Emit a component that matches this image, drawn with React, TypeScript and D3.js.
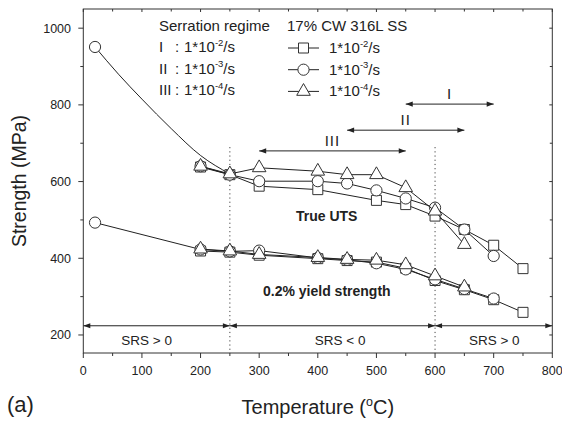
import React from 'react';
import * as d3 from 'd3';

// ---------- data ----------
const utsSquareT = [200, 250, 300, 400, 500, 550, 600, 650, 700, 750];
const utsSquareV = [638, 618, 588, 579, 551, 540, 510, 475, 434, 373];
const utsCircleT = [20, 200, 250, 300, 400, 450, 500, 550, 600, 650, 700];
const utsCircleV = [951, 640, 618, 601, 601, 595, 577, 556, 532, 475, 406];
const utsTriT = [200, 250, 300, 400, 450, 500, 550, 600, 650];
const utsTriV = [640, 620, 636, 627, 618, 618, 584, 523, 436];
// fitted curve through the room-temperature UTS point
const utsFitT = [20, 60, 100, 150, 200, 250];
const utsFitV = [951, 880, 815, 738, 668, 620];

const ysSquareT = [200, 250, 300, 400, 450, 500, 550, 600, 650, 700, 750];
const ysSquareV = [419, 416, 408, 399, 394, 390, 374, 342, 318, 292, 259];
const ysCircleT = [20, 200, 250, 300, 400, 450, 500, 550, 600, 650, 700];
const ysCircleV = [493, 423, 418, 420, 401, 396, 387, 371, 345, 320, 295];
const ysTriT = [200, 250, 300, 400, 450, 500, 550, 600, 650];
const ysTriV = [424, 419, 410, 402, 397, 395, 383, 354, 325];

const regimeLabels = ['I', 'II', 'III'];
const regimeStart = [550, 450, 300];
const regimeEnd = [700, 650, 550];
const regimeLevel = [802, 734, 680];
const regimeLabelT = [625, 550, 425];

const srsLabels = ['SRS > 0', 'SRS < 0', 'SRS > 0'];
const srsStart = [0, 250, 600];
const srsEnd = [250, 600, 800];
const srsLabelT = [108, 438, 701];
const srsLevel = 224;

const boundaryT = [250, 600];
const boundaryTop = 690;

const legendNumerals = ['I', 'II', 'III'];
const legendExponents = ['-2', '-3', '-4'];
const legendShapes = ['square', 'circle', 'triangle'];

const xTicks = [0, 100, 200, 300, 400, 500, 600, 700, 800];
const xMinor = [50, 150, 250, 350, 450, 550, 650, 750];
const yTicks = [200, 400, 600, 800, 1000];
const yMinor = [300, 500, 700, 900];

// ---------- layout ----------
const W = 562, H = 422;
const L = 83.3, R = 552.3, T = 9, B = 353;
const FONT = 'Liberation Sans, Arial, sans-serif';
const INK = '#222';

const x = d3.scaleLinear().domain([0, 800]).range([L, R]);
const y = d3.scaleLinear().domain([153, 1050]).range([B, T]);

const symGen = (shape: string) => {
  const type = shape === 'square' ? d3.symbolSquare : shape === 'circle' ? d3.symbolCircle : d3.symbolTriangle;
  const size = shape === 'square' ? 100 : shape === 'circle' ? Math.PI * 5.6 * 5.6 : 80;
  return d3.symbol().type(type).size(size)() as string;
};

const lineGen = d3.line<[number, number]>().x(d => x(d[0])).y(d => y(d[1]));
const curveGen = d3.line<[number, number]>().x(d => x(d[0])).y(d => y(d[1])).curve(d3.curveMonotoneX);

const zip = (a: number[], b: number[]) => a.map((v, i) => [v, b[i]] as [number, number]);

function Series({ t, v, shape, skipFirstLine }: { t: number[]; v: number[]; shape: string; skipFirstLine?: boolean }) {
  const pts = zip(t, v);
  const linePts = skipFirstLine ? pts.slice(1) : pts;
  const d = symGen(shape);
  return (
    <g>
      <path d={lineGen(linePts) as string} fill="none" stroke={INK} strokeWidth={1} />
      {pts.map((p, i) => (
        <path key={i} d={d} transform={`translate(${x(p[0])},${y(p[1])})`} fill="#fff" stroke="#333" strokeWidth={1} />
      ))}
    </g>
  );
}

function Arrow({ x1, x2, yy }: { x1: number; x2: number; yy: number }) {
  const hl = 7, hw = 2.6;
  return (
    <g>
      <line x1={x1} x2={x2} y1={yy} y2={yy} stroke={INK} strokeWidth={1} />
      <path d={`M${x1},${yy}L${x1 + hl},${yy - hw}L${x1 + hl},${yy + hw}Z`} fill={INK} />
      <path d={`M${x2},${yy}L${x2 - hl},${yy - hw}L${x2 - hl},${yy + hw}Z`} fill={INK} />
    </g>
  );
}

export default function App() {
  return (
    <svg width={W} height={H} style={{ position: 'absolute', left: 0, top: 0, background: '#fff' }} fontFamily={FONT}>
      <rect x={0} y={0} width={W} height={H} fill="#fff" />

      {/* boundaries */}
      {boundaryT.map((b, i) => (
        <line key={i} x1={x(b)} x2={x(b)} y1={y(boundaryTop)} y2={B} stroke="#444" strokeWidth={1} strokeDasharray="1.2,3" />
      ))}

      {/* fitted UTS curve */}
      <path d={curveGen(zip(utsFitT, utsFitV)) as string} fill="none" stroke={INK} strokeWidth={1} />

      <Series t={utsSquareT} v={utsSquareV} shape="square" />
      <Series t={utsCircleT} v={utsCircleV} shape="circle" skipFirstLine />
      <Series t={utsTriT} v={utsTriV} shape="triangle" />

      <Series t={ysSquareT} v={ysSquareV} shape="square" />
      <Series t={ysCircleT} v={ysCircleV} shape="circle" />
      <Series t={ysTriT} v={ysTriV} shape="triangle" />

      {/* regime arrows */}
      {regimeLabels.map((lab, i) => (
        <g key={i}>
          <Arrow x1={x(regimeStart[i])} x2={x(regimeEnd[i])} yy={y(regimeLevel[i])} />
          <text x={x(regimeLabelT[i])} y={y(regimeLevel[i]) - 5} textAnchor="middle" fontSize={15} fill={INK} letterSpacing={1}>{lab}</text>
        </g>
      ))}

      {/* SRS arrows */}
      {srsLabels.map((lab, i) => (
        <g key={i}>
          <Arrow x1={x(srsStart[i])} x2={x(srsEnd[i])} yy={y(srsLevel)} />
          <text x={x(srsLabelT[i])} y={y(srsLevel) + 19.5} textAnchor="middle" fontSize={13.5} fill={INK}>{lab}</text>
        </g>
      ))}

      {/* annotations */}
      <text x={296} y={221} fontSize={14} fontWeight="bold" fill={INK}>True UTS</text>
      <text x={263} y={296} fontSize={14} fontWeight="bold" fill={INK}>0.2% yield strength</text>

      {/* legend left */}
      <text x={159} y={30.5} fontSize={15} fill={INK}>Serration regime</text>
      {legendNumerals.map((n, i) => (
        <g key={i} fill={INK} fontSize={15}>
          <text x={159} y={52 + i * 21.5}>{n}</text>
          <text x={175} y={52 + i * 21.5}>:</text>
          <text x={184} y={52 + i * 21.5}>
            1*10<tspan fontSize={9.5} dy={-6.5}>{legendExponents[i]}</tspan><tspan dy={6.5}>/s</tspan>
          </text>
        </g>
      ))}

      {/* legend right */}
      <text x={287} y={30.5} fontSize={15} fill={INK}>17% CW 316L SS</text>
      {legendShapes.map((s, i) => {
        const cy = 48 + i * 21.7;
        return (
          <g key={i}>
            <line x1={288} x2={319} y1={cy} y2={cy} stroke={INK} strokeWidth={1} />
            <path d={symGen(s)} transform={`translate(303.5,${cy})`} fill="#fff" stroke="#333" strokeWidth={1} />
            <text x={329} y={cy + 5} fontSize={15} fill={INK}>
              1*10<tspan fontSize={9.5} dy={-6.5}>{legendExponents[i]}</tspan><tspan dy={6.5}>/s</tspan>
            </text>
          </g>
        );
      })}

      {/* frame */}
      <rect x={L} y={T} width={R - L} height={B - T} fill="none" stroke="#333" strokeWidth={1} />

      {/* bottom axis */}
      {xTicks.map(t => (
        <g key={t}>
          <line x1={x(t)} x2={x(t)} y1={B} y2={B + 5} stroke="#333" />
          <line x1={x(t)} x2={x(t)} y1={T} y2={T + 3} stroke="#333" />
          <text x={x(t)} y={374.5} textAnchor="middle" fontSize={12.5} fill={INK}>{t}</text>
        </g>
      ))}
      {xMinor.map(t => (
        <g key={t}>
          <line x1={x(t)} x2={x(t)} y1={B} y2={B + 3} stroke="#333" />
          <line x1={x(t)} x2={x(t)} y1={T} y2={T + 2.5} stroke="#333" />
        </g>
      ))}

      {/* left axis */}
      {yTicks.map(t => (
        <g key={t}>
          <line x1={L - 5} x2={L} y1={y(t)} y2={y(t)} stroke="#333" />
          <line x1={R - 3} x2={R} y1={y(t)} y2={y(t)} stroke="#333" />
          <text x={71} y={y(t) + 4.5} textAnchor="end" fontSize={12.5} fill={INK}>{t}</text>
        </g>
      ))}
      {yMinor.map(t => (
        <g key={t}>
          <line x1={L - 3} x2={L} y1={y(t)} y2={y(t)} stroke="#333" />
          <line x1={R - 2.5} x2={R} y1={y(t)} y2={y(t)} stroke="#333" />
        </g>
      ))}

      {/* axis titles */}
      <text x={(L + R) / 2} y={414} textAnchor="middle" fontSize={20} fill={INK}>
        Temperature (<tspan fontSize={12.5} dy={-8.5}>o</tspan><tspan dy={8.5}>C)</tspan>
      </text>
      <text transform={`translate(26,${(T + B) / 2}) rotate(-90)`} textAnchor="middle" fontSize={19.5} fill={INK}>Strength (MPa)</text>
      <text x={7} y={412} fontSize={22} fill={INK}>(a)</text>
    </svg>
  );
}
